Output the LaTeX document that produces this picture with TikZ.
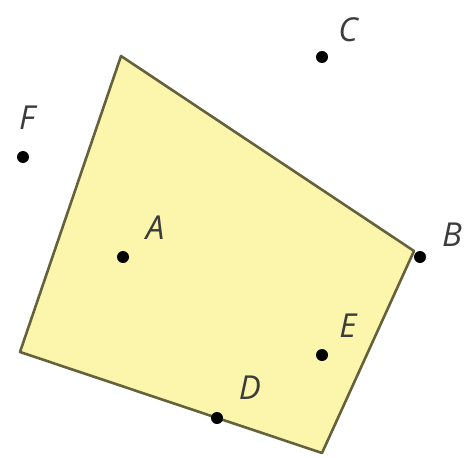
\documentclass[tikz,border=0pt]{standalone}
\usepackage{fontspec}
\setmainfont{Open Sans}
\definecolor{regionfill}{RGB}{252,246,172}
\definecolor{regionline}{RGB}{100,98,60}
\definecolor{labelgray}{RGB}{60,60,60}

\begin{document}
\begin{tikzpicture}[x=1pt, y=-1pt,
    dot/.style={circle, fill=black, inner sep=0pt, minimum size=12pt},
    lbl/.style={text=labelgray, font=\fontsize{33}{36}\selectfont\itshape, inner sep=0pt}]
  \useasboundingbox (0,0) rectangle (465,457);
  % region
  \coordinate (top) at (121,56);
  \coordinate (right) at (414,251);
  \coordinate (low) at (322,453);
  \coordinate (left) at (20,352);
  \draw[regionline, line width=2.6pt, fill=regionfill, line join=round]
    (top) -- (right) -- (low) -- (left) -- cycle;
  % points
  \node[dot] (A) at (123,257) {};
  \node[dot] (B) at (420,257) {};
  \node[dot] (C) at (322,57) {};
  \node[dot] (D) at (217,418) {};
  \node[dot] (E) at (322,355) {};
  \node[dot] (F) at (23,157) {};
  \node[lbl] (labA) at (155,228) {A};
  \node[lbl] (labB) at (452,235) {B};
  \node[lbl] (labC) at (348,30) {C};
  \node[lbl] (labD) at (250,388) {D};
  \node[lbl] (labE) at (348,326) {E};
  \node[lbl] (labF) at (27,118) {F};
\end{tikzpicture}
\end{document}
